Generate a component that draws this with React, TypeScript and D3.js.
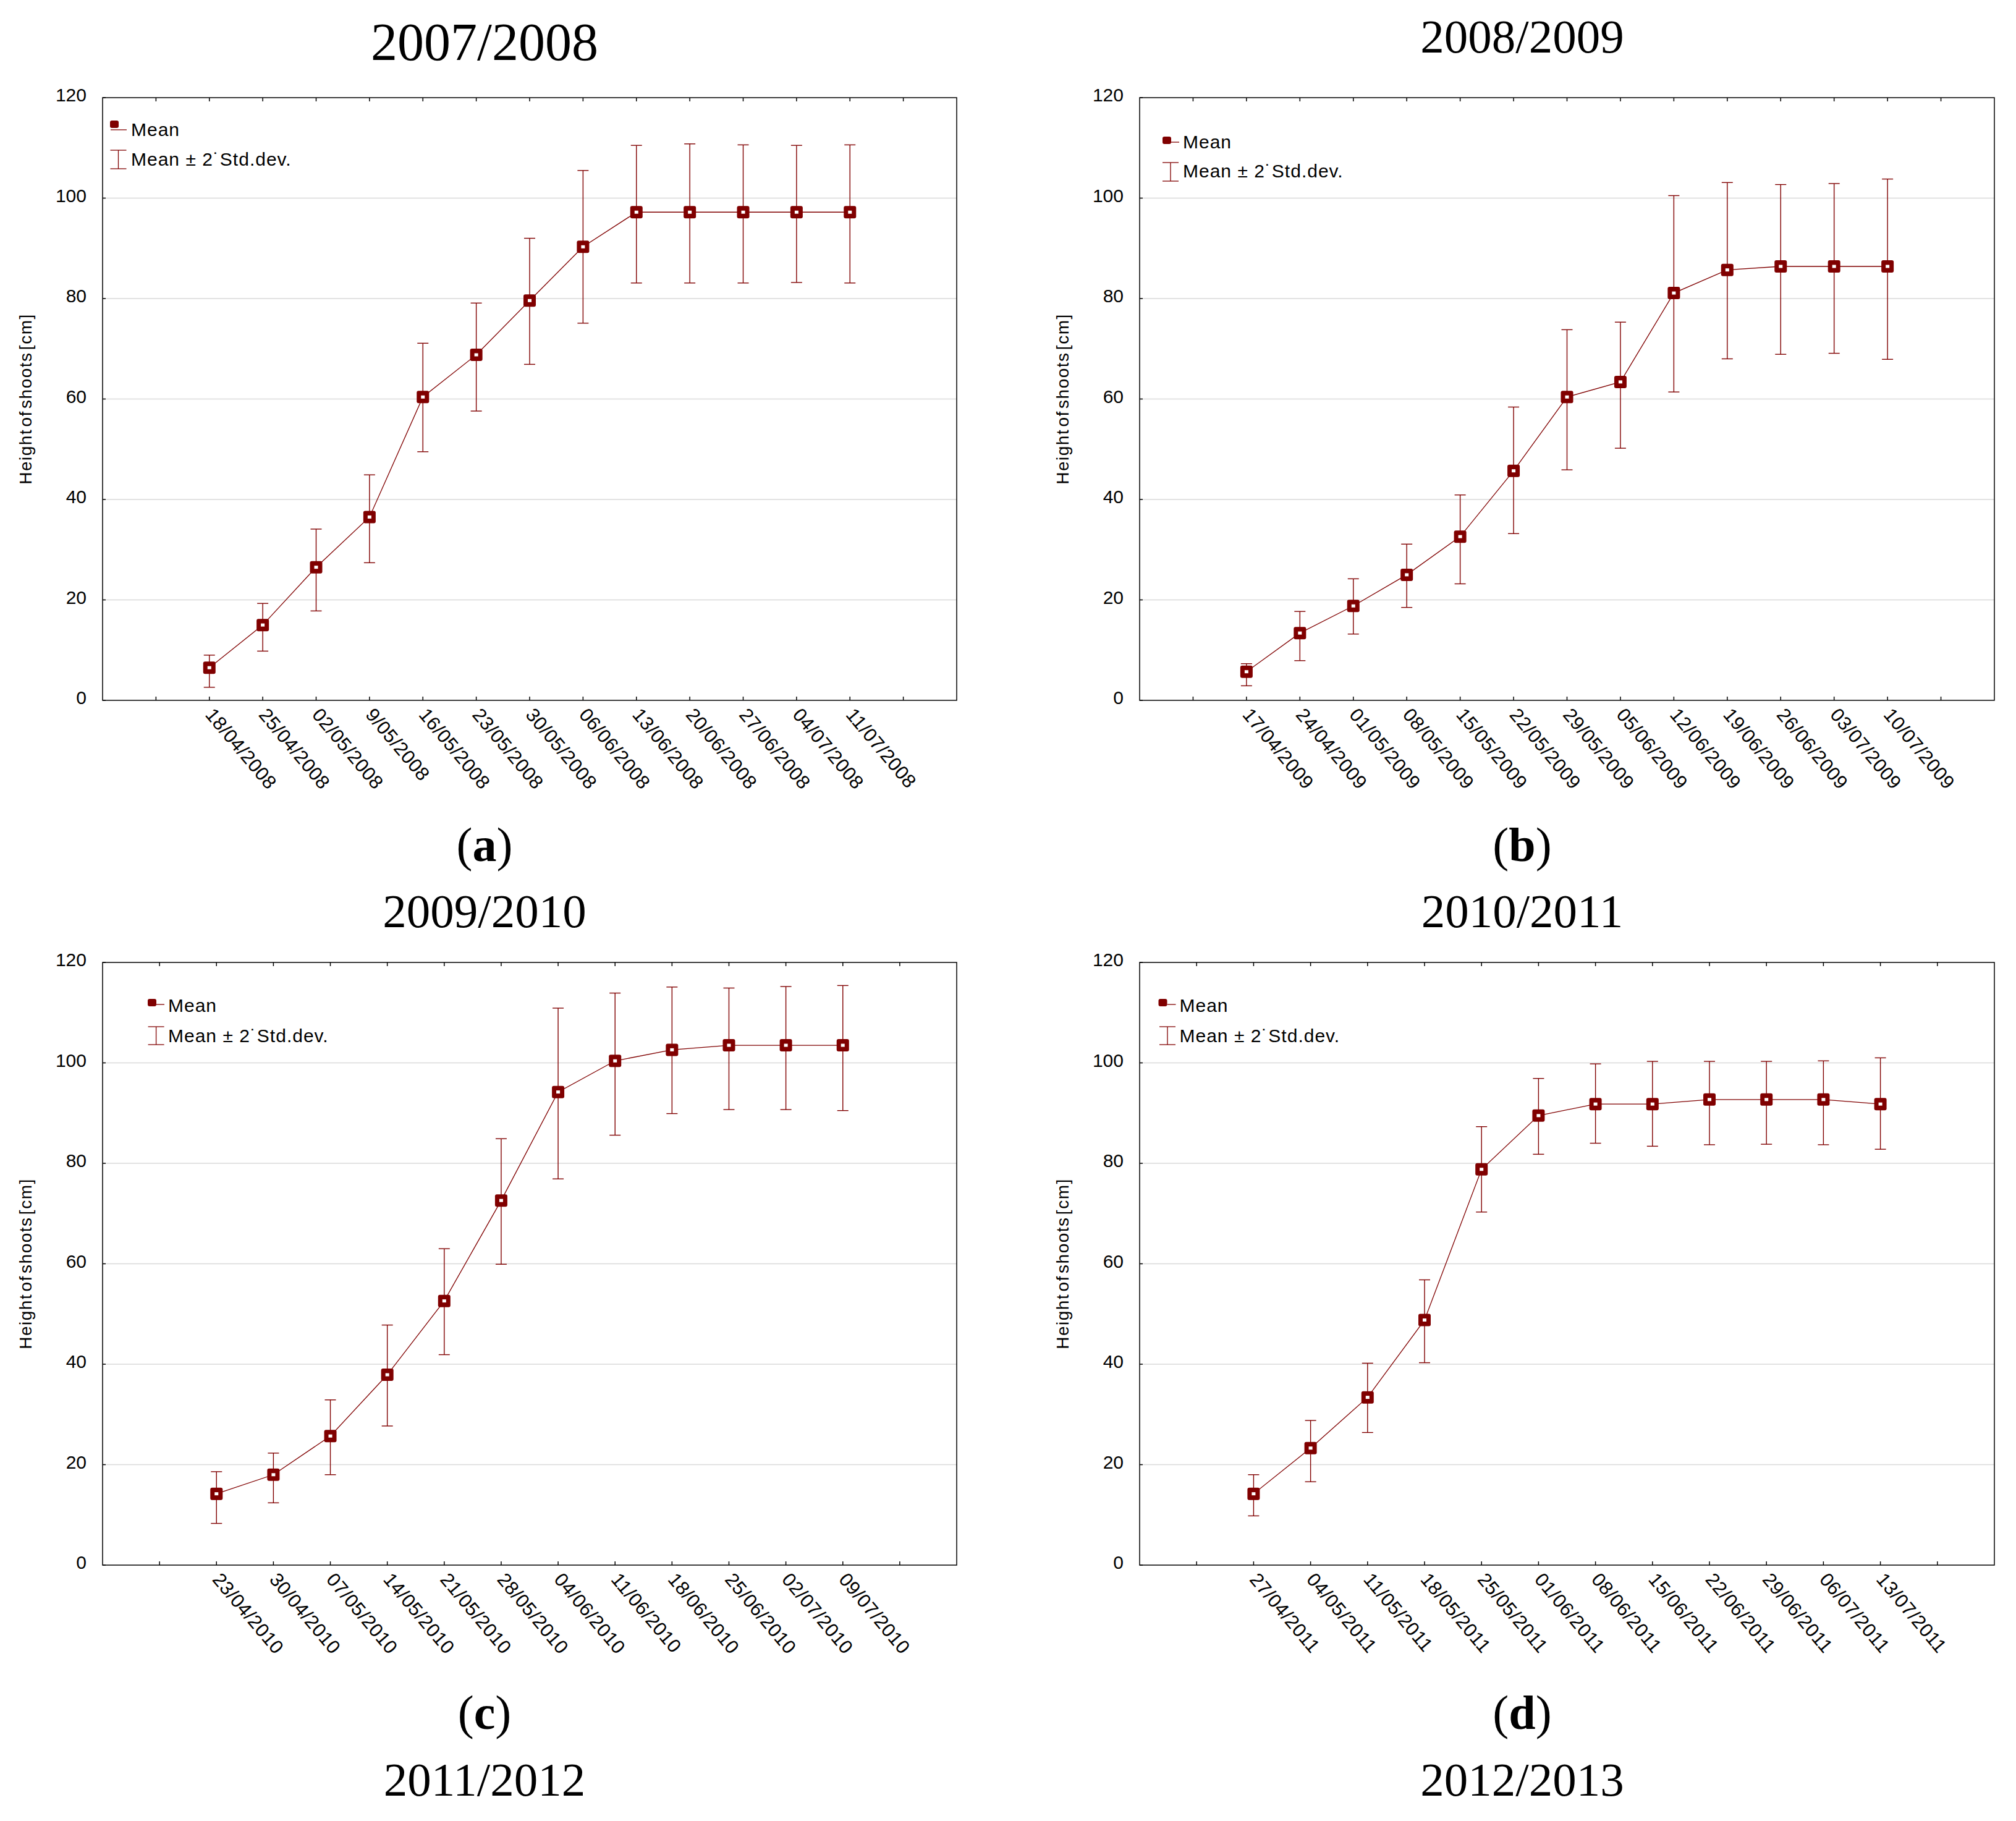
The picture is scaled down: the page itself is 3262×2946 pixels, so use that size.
import React from 'react';
import * as d3 from 'd3';

// ---------- data ----------
const dates0708 = ['18/04/2008', '25/04/2008', '02/05/2008', '9/05/2008', '16/05/2008', '23/05/2008', '30/05/2008', '06/06/2008', '13/06/2008', '20/06/2008', '27/06/2008', '04/07/2008', '11/07/2008'];
const mean0708 = [6.5, 15.0, 26.5, 36.5, 60.4, 68.8, 79.6, 90.3, 97.2, 97.2, 97.2, 97.2, 97.2];
const upper0708 = [9.0, 19.3, 34.1, 44.9, 71.1, 79.1, 92.0, 105.5, 110.5, 110.8, 110.6, 110.5, 110.6];
const lower0708 = [2.6, 9.8, 17.8, 27.4, 49.5, 57.6, 66.9, 75.1, 83.1, 83.1, 83.1, 83.2, 83.1];

const dates0809 = ['17/04/2009', '24/04/2009', '01/05/2009', '08/05/2009', '15/05/2009', '22/05/2009', '29/05/2009', '05/06/2009', '12/06/2009', '19/06/2009', '26/06/2009', '03/07/2009', '10/07/2009'];
const mean0809 = [5.7, 13.4, 18.8, 25.0, 32.6, 45.7, 60.4, 63.4, 81.1, 85.7, 86.4, 86.4, 86.4];
const upper0809 = [7.3, 17.7, 24.2, 31.1, 40.9, 58.4, 73.8, 75.3, 100.5, 103.1, 102.7, 102.9, 103.8];
const lower0809 = [2.9, 7.9, 13.2, 18.5, 23.2, 33.2, 45.9, 50.2, 61.4, 68.0, 68.9, 69.1, 67.9];

const dates0910 = ['23/04/2010', '30/04/2010', '07/05/2010', '14/05/2010', '21/05/2010', '28/05/2010', '04/06/2010', '11/06/2010', '18/06/2010', '25/06/2010', '02/07/2010', '09/07/2010'];
const mean0910 = [14.2, 18.0, 25.7, 37.9, 52.6, 72.6, 94.2, 100.4, 102.6, 103.5, 103.5, 103.5];
const upper0910 = [18.6, 22.3, 32.9, 47.8, 63.0, 84.9, 110.9, 113.9, 115.1, 114.9, 115.2, 115.4];
const lower0910 = [8.3, 12.4, 18.0, 27.7, 41.9, 59.9, 76.9, 85.6, 89.9, 90.7, 90.7, 90.5];

const dates1011 = ['27/04/2011', '04/05/2011', '11/05/2011', '18/05/2011', '25/05/2011', '01/06/2011', '08/06/2011', '15/06/2011', '22/06/2011', '29/06/2011', '06/07/2011', '13/07/2011'];
const mean1011 = [14.2, 23.3, 33.4, 48.8, 78.8, 89.5, 91.8, 91.8, 92.7, 92.7, 92.7, 91.8];
const upper1011 = [18.0, 28.8, 40.2, 56.8, 87.3, 96.9, 99.8, 100.3, 100.3, 100.3, 100.4, 101.0];
const lower1011 = [9.8, 16.6, 26.4, 40.3, 70.3, 81.8, 84.0, 83.4, 83.7, 83.8, 83.7, 82.8];

const yTicks = [0, 20, 40, 60, 80, 100, 120];
const gridValues = [20, 40, 60, 80, 100];
const seasonTitles = ['2007/2008', '2008/2009', '2009/2010', '2010/2011', '2011/2012', '2012/2013'];
const panelLetters = ['a', 'b', 'c', 'd'];
const yAxisTitle = 'Height of shoots [cm]';
const legendMean = 'Mean';
const legendSd = 'Mean ± 2˙Std.dev.';

// ---------- styles ----------
const W = 3262;
const H = 2946;
const SANS = "'Liberation Sans', Arial, sans-serif";
const SERIF = "'Liberation Serif', 'Times New Roman', serif";
const RED = '#800000';

type Frame = { x0: number; x1: number; y0: number; y1: number };
type Legend = { mx: number; my: number; under: boolean; tx: number; b1: number; b2: number; wx: number; wt: number; wb: number };

function Panel(props: {
  frame: Frame;
  dates: string[];
  mean: number[];
  upper: number[];
  lower: number[];
  legend: Legend;
}) {
  const { frame, dates, mean, upper, lower, legend } = props;
  const { x0, x1, y0, y1 } = frame;
  const n = dates.length;
  const x = d3.scaleLinear().domain([-2, n + 1]).range([x0, x1]);
  const y = d3.scaleLinear().domain([0, 120]).range([y1, y0]);
  const tickIdx = d3.range(-1, n + 1);
  const linePath = d3
    .line<number>()
    .x((_, i) => x(i))
    .y((d) => y(d))(mean) as string;
  const cap = 9;
  const lg = legend;
  return (
    <g>
      {gridValues.map((v) => (
        <line key={'g' + v} x1={x0} x2={x1} y1={y(v)} y2={y(v)} stroke="#d9d9d9" strokeWidth={1.3} />
      ))}
      {/* error bars */}
      {mean.map((_, i) => (
        <g key={'e' + i} stroke={RED} strokeWidth={1.4}>
          <line x1={x(i)} x2={x(i)} y1={y(lower[i])} y2={y(upper[i])} />
          <line x1={x(i) - cap} x2={x(i) + cap} y1={y(upper[i])} y2={y(upper[i])} />
          <line x1={x(i) - cap} x2={x(i) + cap} y1={y(lower[i])} y2={y(lower[i])} />
        </g>
      ))}
      <path d={linePath} fill="none" stroke={RED} strokeWidth={1.3} />
      {mean.map((v, i) => (
        <g key={'m' + i}>
          <rect x={x(i) - 10} y={y(v) - 10} width={20} height={20} rx={3} fill={RED} />
          <rect x={x(i) - 3} y={y(v) - 2.5} width={6} height={5} fill="#fff" />
        </g>
      ))}
      <rect x={x0} y={y0} width={x1 - x0} height={y1 - y0} fill="none" stroke="#000" strokeWidth={1.5} />
      {tickIdx.map((k) => (
        <g key={'t' + k} stroke="#000" strokeWidth={1.5}>
          <line x1={x(k)} x2={x(k)} y1={y1} y2={y1 - 6} />
          <line x1={x(k)} x2={x(k)} y1={y0} y2={y0 + 6} />
        </g>
      ))}
      {yTicks.map((v) => (
        <g key={'y' + v}>
          <line x1={x0} x2={x0 + 5} y1={y(v)} y2={y(v)} stroke="#000" strokeWidth={1.5} />
          <text x={x0 - 26} y={y(v) + 6} textAnchor="end" fontFamily={SANS} fontSize={30} fill="#000">
            {v}
          </text>
        </g>
      ))}
      {dates.map((d, i) => (
        <text
          key={'d' + i}
          transform={`translate(${x(i) - 8},${y1 + 24}) rotate(50)`}
          fontFamily={SANS}
          fontSize={31}
          letterSpacing={0.4}
          fill="#000"
        >
          {d}
        </text>
      ))}
      <text
        transform={`translate(${x0 - 115},${(y0 + y1) / 2}) rotate(-90)`}
        textAnchor="middle"
        fontFamily={SANS}
        fontSize={28}
        letterSpacing={1.5}
        wordSpacing={-6}
        fill="#000"
      >
        {yAxisTitle}
      </text>
      {/* legend */}
      <rect x={x0 + lg.mx - 7} y={y0 + lg.my - 6} width={14} height={12} rx={3} fill={RED} />
      {lg.under ? (
        <line x1={x0 + lg.mx - 6} x2={x0 + lg.mx + 20} y1={y0 + lg.my + 9} y2={y0 + lg.my + 9} stroke={RED} strokeWidth={1.3} />
      ) : (
        <line x1={x0 + lg.mx + 7} x2={x0 + lg.tx - 6} y1={y0 + lg.my + 3} y2={y0 + lg.my + 3} stroke={RED} strokeWidth={1.3} />
      )}
      <text x={x0 + lg.tx} y={y0 + lg.b1} fontFamily={SANS} fontSize={30} letterSpacing={1} fill="#000">
        {legendMean}
      </text>
      <g stroke={RED} strokeWidth={1.3}>
        <line x1={x0 + lg.wx} x2={x0 + lg.wx} y1={y0 + lg.wt} y2={y0 + lg.wb} />
        <line x1={x0 + lg.wx - 13} x2={x0 + lg.wx + 13} y1={y0 + lg.wt} y2={y0 + lg.wt} />
        <line x1={x0 + lg.wx - 13} x2={x0 + lg.wx + 13} y1={y0 + lg.wb} y2={y0 + lg.wb} />
      </g>
      <text x={x0 + lg.tx} y={y0 + lg.b2} fontFamily={SANS} fontSize={30} letterSpacing={1} fill="#000">
        {legendSd}
      </text>
    </g>
  );
}

function Letter({ x, y, letter }: { x: number; y: number; letter: string }) {
  return (
    <text x={x} y={y} textAnchor="middle" fontFamily={SERIF} fontSize={78} fill="#000">
      (<tspan fontWeight="bold">{letter}</tspan>)
    </text>
  );
}

export default function App() {
  const leftCx = 784;
  const rightCx = 2463;
  const fA: Frame = { x0: 166, x1: 1548, y0: 158, y1: 1133 };
  const fB: Frame = { x0: 1844, x1: 3227, y0: 158, y1: 1133 };
  const fC: Frame = { x0: 166, x1: 1548, y0: 1557, y1: 2532 };
  const fD: Frame = { x0: 1844, x1: 3227, y0: 1557, y1: 2532 };
  return (
    <svg
      width={W}
      height={H}
      viewBox={`0 0 ${W} ${H}`}
      style={{ position: 'absolute', left: 0, top: 0, background: '#fff' }}
    >
      <rect x={0} y={0} width={W} height={H} fill="#fff" />
      <text x={leftCx} y={97} textAnchor="middle" fontFamily={SERIF} fontSize={86} fill="#000">
        {seasonTitles[0]}
      </text>
      <text x={rightCx} y={85} textAnchor="middle" fontFamily={SERIF} fontSize={77} fill="#000">
        {seasonTitles[1]}
      </text>
      <Panel
        frame={fA}
        dates={dates0708}
        mean={mean0708}
        upper={upper0708}
        lower={lower0708}
        legend={{ mx: 19, my: 43, under: true, tx: 46, b1: 62, b2: 110, wx: 25.5, wt: 85, wb: 115 }}
      />
      <Panel
        frame={fB}
        dates={dates0809}
        mean={mean0809}
        upper={upper0809}
        lower={lower0809}
        legend={{ mx: 44, my: 69, under: false, tx: 70, b1: 82, b2: 128.5, wx: 50, wt: 105, wb: 135 }}
      />
      <Letter x={leftCx} y={1393} letter={panelLetters[0]} />
      <Letter x={rightCx} y={1393} letter={panelLetters[1]} />
      <text x={leftCx} y={1500} textAnchor="middle" fontFamily={SERIF} fontSize={77} fill="#000">
        {seasonTitles[2]}
      </text>
      <text x={rightCx} y={1500} textAnchor="middle" fontFamily={SERIF} fontSize={77} fill="#000">
        {seasonTitles[3]}
      </text>
      <Panel
        frame={fC}
        dates={dates0910}
        mean={mean0910}
        upper={upper0910}
        lower={lower0910}
        legend={{ mx: 80, my: 65, under: false, tx: 106, b1: 80, b2: 129, wx: 86.6, wt: 104, wb: 133 }}
      />
      <Panel
        frame={fD}
        dates={dates1011}
        mean={mean1011}
        upper={upper1011}
        lower={lower1011}
        legend={{ mx: 37.5, my: 65, under: false, tx: 64.5, b1: 80, b2: 129, wx: 45, wt: 104, wb: 133 }}
      />
      <Letter x={leftCx} y={2797} letter={panelLetters[2]} />
      <Letter x={rightCx} y={2797} letter={panelLetters[3]} />
      <text x={leftCx} y={2905} textAnchor="middle" fontFamily={SERIF} fontSize={77} fill="#000">
        {seasonTitles[4]}
      </text>
      <text x={rightCx} y={2905} textAnchor="middle" fontFamily={SERIF} fontSize={77} fill="#000">
        {seasonTitles[5]}
      </text>
    </svg>
  );
}
